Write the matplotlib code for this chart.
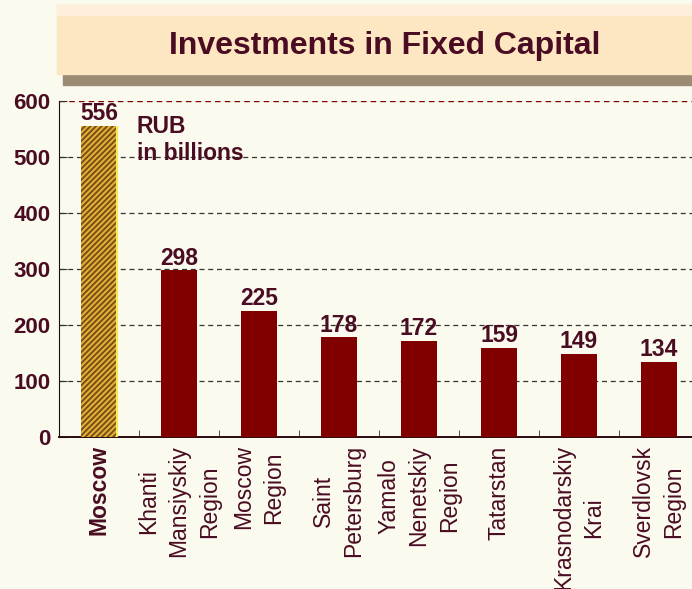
import matplotlib
matplotlib.use("Agg")
import matplotlib.pyplot as plt
from matplotlib.patches import Rectangle

regions = ["Moscow", "Khanti\nMansiyskiy\nRegion", "Moscow\nRegion", "Saint\nPetersburg",
           "Yamalo\nNenetskiy\nRegion", "Tatarstan", "Krasnodarskiy\nKrai", "Sverdlovsk\nRegion"]
investments = [556, 298, 225, 178, 172, 159, 149, 134]
yticks = [0, 100, 200, 300, 400, 500, 600]

BG = "#FAFAEE"
TXT = "#4A0C22"
BAR = "#800000"
BAR_W = 0.45

plt.rcParams['font.family'] = ['Liberation Sans', 'DejaVu Sans']
plt.rcParams['hatch.linewidth'] = 1.4

fig = plt.figure(figsize=(6.92, 5.89), dpi=100, facecolor=BG)
W, H = 692, 589

# title banner
fig.patches.append(Rectangle((63 / W, 1 - 85 / H), (W - 63) / W, 11 / H,
                             transform=fig.transFigure, color="#9A8B72", zorder=0))
fig.patches.append(Rectangle((57 / W, 1 - 74 / H), (W - 57) / W, 69 / H,
                             transform=fig.transFigure, color="#FDE6C2", zorder=1))
fig.patches.append(Rectangle((57 / W, 1 - 15 / H), (W - 57) / W, 10 / H,
                             transform=fig.transFigure, color="#FDEFDA", zorder=1))
fig.text(385 / W, 1 - 46 / H, "Investments in Fixed Capital", ha="center", va="center",
         fontsize=23, fontweight="bold", color=TXT, zorder=2)

ax = fig.add_axes([59 / W, (H - 437) / H, 640 / W, 336 / H])
ax.set_facecolor(BG)
x = list(range(len(regions)))

ax.bar(x[1:], investments[1:], width=BAR_W, color=BAR, zorder=3)
ax.bar(x[0], investments[0], width=BAR_W, facecolor="#E8B034", edgecolor="#76501A",
       hatch="//////", linewidth=0, zorder=3)
ax.vlines(x[0] + BAR_W / 2, 0, investments[0], color="#F5EC50", linewidth=1.5, zorder=4)

for xi, v in zip(x, investments):
    ax.text(xi, v + 1, str(v), ha="center", va="bottom", fontsize=16.5, fontweight="bold",
            color=TXT, zorder=5)

ax.text(0.47, 575, "RUB\nin billions", ha="left", va="top", fontsize=16.5, fontweight="bold",
        color=TXT, linespacing=1.2, zorder=5)

ax.set_xlim(-0.5, len(regions) - 0.5)
ax.set_ylim(0, 600)
ax.set_yticks(yticks)
ax.set_yticklabels([str(t) for t in yticks], fontsize=16, fontweight="bold", color=TXT)
ax.tick_params(axis="y", direction="in", length=6, color="#333333", pad=6)

for t in yticks[1:-1]:
    ax.axhline(t, color="#333333", linestyle=(0, (4, 3)), linewidth=0.9, zorder=1)
ax.axhline(600, color=BAR, linestyle=(0, (4, 3)), linewidth=1.0, zorder=1)

ax.set_xticks(x)
ax.set_xticklabels(regions, rotation=90, ha="center", va="top", fontsize=16.5,
                   color=TXT, linespacing=1.4)
ax.get_xticklabels()[0].set_fontweight("bold")
ax.tick_params(axis="x", length=0, pad=6)
ax.set_xticks([i + 0.5 for i in x[:-1]], minor=True)
ax.tick_params(axis="x", which="minor", direction="in", length=5, color="#333333")

for s in ["top", "right"]:
    ax.spines[s].set_visible(False)
ax.spines["left"].set_color("#111111")
ax.spines["bottom"].set_color("#2A0A10")
ax.spines["bottom"].set_linewidth(1.4)

fig.savefig("out.png", dpi=100, facecolor=BG)
